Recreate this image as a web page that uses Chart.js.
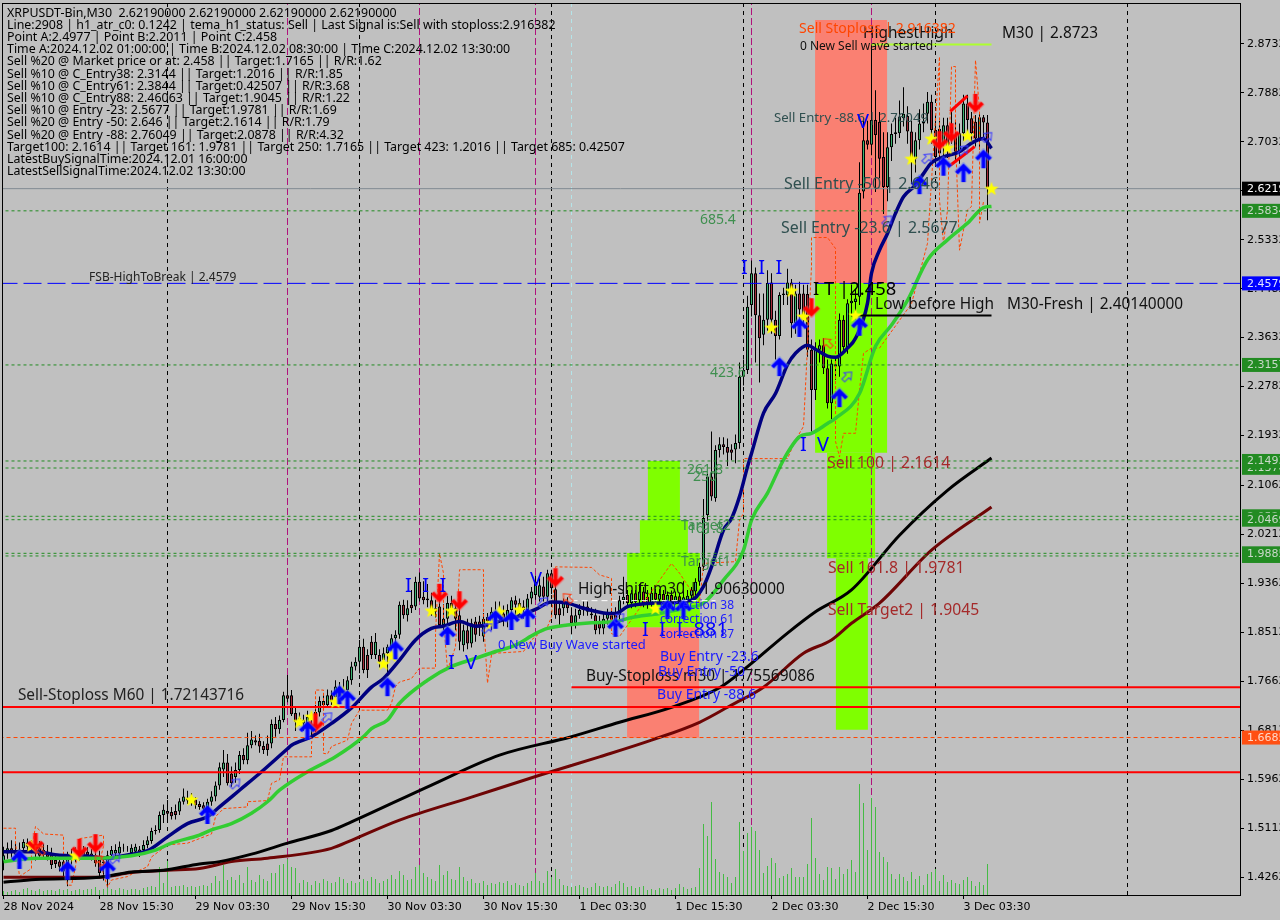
<!DOCTYPE html>
<html>
<head>
<meta charset="utf-8">
<title>XRPUSDT-Bin,M30</title>
<script src="https://cdn.jsdelivr.net/npm/chart.js@4"></script>
<style>
  html, body { margin: 0; padding: 0; background: #c0c0c0; overflow: hidden; }
  canvas { display: block; }
</style>
</head>
<body>
<canvas id="grafico" width="1280" height="920"></canvas>
<script>
// candles, one per M30 bar
const opens = [
  1.453,1.467,1.476,1.473,1.474,1.476,1.486,1.481,1.476,1.476,
  1.473,1.470,1.467,1.456,1.453,1.453,1.447,1.456,1.461,1.464,
  1.472,1.470,1.467,1.464,1.456,1.453,1.447,1.464,1.467,1.467,
  1.476,1.476,1.468,1.470,1.474,1.473,1.482,1.489,1.506,1.508,
  1.534,1.541,1.539,1.541,1.540,1.557,1.564,1.562,1.561,1.553,
  1.551,1.545,1.557,1.566,1.585,1.613,1.625,1.606,1.600,1.612,
  1.638,1.629,1.655,1.664,1.663,1.654,1.658,1.658,1.692,1.683,
  1.699,1.742,1.742,1.711,1.700,1.693,1.693,1.699,1.713,1.712,
  1.725,1.725,1.742,1.739,1.745,1.751,1.751,1.768,1.792,1.800,
  1.826,1.812,1.835,1.812,1.812,1.803,1.815,1.826,1.841,1.847,
  1.899,1.881,1.899,1.896,1.939,1.913,1.910,1.907,1.893,1.896,
  1.864,1.875,1.902,1.893,1.881,1.829,1.855,1.832,1.870,1.870,
  1.844,1.878,1.864,1.887,1.875,1.884,1.873,1.890,1.907,1.902,
  1.896,1.890,1.910,1.916,1.913,1.931,1.913,1.954,1.926,1.893,
  1.893,1.902,1.881,1.867,1.881,1.890,1.896,1.881,1.881,1.867,
  1.858,1.875,1.881,1.884,1.881,1.907,1.916,1.902,1.919,1.907,
  1.922,1.913,1.902,1.920,1.908,1.918,1.906,1.916,1.905,1.914,
  1.904,1.905,1.915,1.922,1.939,1.965,2.055,2.122,2.084,2.168,
  2.178,2.173,2.169,2.169,2.180,2.295,2.307,2.420,2.475,2.402,
  2.368,2.394,2.459,2.394,2.366,2.437,2.437,2.459,2.388,2.440,
  2.440,2.439,2.342,2.272,2.342,2.350,2.310,2.249,2.317,2.313,
  2.394,2.347,2.423,2.425,2.434,2.617,2.706,2.698,2.741,2.738,
  2.677,2.625,2.694,2.717,2.718,2.744,2.748,2.721,2.674,2.706,
  2.735,2.752,2.773,2.724,2.726,2.700,2.732,2.729,2.715,2.686,
  2.718,2.770,2.744,2.738,2.709,2.746,2.737
];
const closes = [
  1.464,1.476,1.468,1.465,1.467,1.487,1.479,1.476,1.467,1.463,
  1.465,1.461,1.447,1.449,1.444,1.436,1.459,1.464,1.467,1.472,
  1.464,1.464,1.462,1.450,1.433,1.450,1.464,1.473,1.473,1.479,
  1.477,1.476,1.477,1.479,1.467,1.482,1.490,1.506,1.508,1.534,
  1.543,1.536,1.532,1.534,1.558,1.566,1.559,1.557,1.551,1.548,
  1.545,1.557,1.566,1.585,1.617,1.625,1.589,1.589,1.612,1.638,
  1.629,1.655,1.665,1.660,1.653,1.647,1.647,1.692,1.683,1.699,
  1.742,1.736,1.709,1.696,1.702,1.699,1.704,1.708,1.684,1.732,
  1.732,1.742,1.731,1.757,1.757,1.742,1.768,1.792,1.800,1.826,
  1.786,1.786,1.812,1.835,1.800,1.815,1.826,1.841,1.847,1.899,
  1.881,1.893,1.893,1.939,1.910,1.907,1.907,1.887,1.887,1.864,
  1.875,1.902,1.893,1.875,1.835,1.855,1.832,1.867,1.847,1.861,
  1.875,1.870,1.887,1.873,1.884,1.875,1.890,1.907,1.899,1.890,
  1.890,1.910,1.922,1.939,1.933,1.913,1.954,1.928,1.881,1.881,
  1.902,1.893,1.867,1.881,1.890,1.896,1.887,1.884,1.855,1.858,
  1.875,1.884,1.873,1.855,1.907,1.913,1.902,1.919,1.904,1.922,
  1.902,1.902,1.920,1.908,1.918,1.906,1.916,1.905,1.914,1.904,
  1.912,1.915,1.925,1.939,1.965,2.050,2.122,2.087,2.168,2.178,
  2.173,2.163,2.163,2.180,2.295,2.307,2.417,2.475,2.402,2.362,
  2.394,2.458,2.394,2.366,2.437,2.440,2.459,2.388,2.440,2.412,
  2.397,2.342,2.272,2.342,2.350,2.310,2.249,2.318,2.313,2.394,
  2.347,2.423,2.427,2.431,2.615,2.706,2.698,2.741,2.715,2.674,
  2.625,2.694,2.717,2.720,2.747,2.752,2.721,2.674,2.706,2.735,
  2.738,2.773,2.724,2.677,2.683,2.732,2.695,2.718,2.686,2.718,
  2.770,2.741,2.718,2.709,2.746,2.737,2.622
];
const highs = [
  1.479,1.486,1.490,1.485,1.486,1.492,1.493,1.490,1.498,1.489,
  1.484,1.482,1.477,1.465,1.460,1.466,1.470,1.475,1.478,1.483,
  1.480,1.478,1.475,1.480,1.472,1.460,1.472,1.480,1.483,1.488,
  1.484,1.480,1.483,1.484,1.480,1.490,1.497,1.512,1.516,1.540,
  1.552,1.560,1.548,1.552,1.563,1.580,1.576,1.572,1.565,1.558,
  1.556,1.562,1.575,1.592,1.625,1.647,1.640,1.618,1.625,1.645,
  1.650,1.677,1.680,1.672,1.675,1.662,1.672,1.700,1.704,1.707,
  1.748,1.777,1.751,1.722,1.712,1.708,1.715,1.713,1.725,1.740,
  1.745,1.752,1.750,1.768,1.765,1.770,1.775,1.800,1.808,1.838,
  1.840,1.822,1.845,1.850,1.822,1.825,1.830,1.848,1.855,1.905,
  1.908,1.907,1.925,1.948,1.955,1.940,1.935,1.920,1.908,1.930,
  1.900,1.915,1.915,1.905,1.900,1.865,1.875,1.875,1.878,1.880,
  1.885,1.885,1.895,1.905,1.905,1.898,1.900,1.912,1.915,1.910,
  1.907,1.918,1.930,1.950,1.945,1.948,1.960,1.960,1.950,1.905,
  1.910,1.912,1.895,1.892,1.900,1.905,1.905,1.895,1.892,1.880,
  1.885,1.892,1.890,1.895,1.915,1.948,1.925,1.925,1.925,1.935,
  1.930,1.925,1.930,1.927,1.926,1.925,1.922,1.924,1.922,1.920,
  1.940,1.925,1.930,1.945,1.972,2.083,2.132,2.200,2.176,2.190,
  2.190,2.188,2.178,2.195,2.320,2.325,2.436,2.497,2.485,2.440,
  2.440,2.480,2.475,2.410,2.442,2.450,2.483,2.465,2.455,2.460,
  2.455,2.455,2.360,2.355,2.360,2.362,2.325,2.325,2.330,2.405,
  2.402,2.430,2.455,2.448,2.668,2.745,2.740,2.873,2.793,2.755,
  2.720,2.720,2.735,2.745,2.775,2.798,2.765,2.740,2.720,2.760,
  2.770,2.790,2.785,2.740,2.740,2.745,2.745,2.755,2.740,2.735,
  2.785,2.785,2.755,2.750,2.755,2.750,2.750
];
const lows = [
  1.438,1.458,1.460,1.458,1.455,1.470,1.472,1.468,1.455,1.457,
  1.458,1.455,1.440,1.442,1.436,1.428,1.410,1.448,1.452,1.455,
  1.458,1.458,1.455,1.444,1.427,1.420,1.408,1.458,1.460,1.462,
  1.470,1.470,1.463,1.464,1.461,1.467,1.476,1.484,1.500,1.503,
  1.520,1.520,1.526,1.526,1.534,1.552,1.553,1.550,1.545,1.543,
  1.538,1.530,1.550,1.558,1.578,1.600,1.585,1.583,1.590,1.605,
  1.622,1.622,1.650,1.655,1.642,1.640,1.637,1.650,1.670,1.675,
  1.695,1.730,1.706,1.680,1.690,1.680,1.685,1.672,1.678,1.705,
  1.718,1.720,1.725,1.733,1.735,1.735,1.745,1.760,1.785,1.780,
  1.780,1.772,1.805,1.805,1.790,1.795,1.780,1.815,1.828,1.840,
  1.875,1.870,1.885,1.890,1.905,1.900,1.895,1.880,1.877,1.860,
  1.855,1.865,1.885,1.855,1.820,1.818,1.822,1.825,1.835,1.845,
  1.835,1.860,1.855,1.865,1.868,1.862,1.860,1.880,1.882,1.880,
  1.875,1.880,1.900,1.908,1.905,1.905,1.905,1.918,1.875,1.862,
  1.880,1.885,1.848,1.858,1.875,1.880,1.880,1.875,1.848,1.848,
  1.848,1.865,1.865,1.845,1.868,1.900,1.895,1.893,1.895,1.898,
  1.895,1.892,1.895,1.900,1.902,1.898,1.900,1.898,1.900,1.898,
  1.900,1.900,1.908,1.915,1.932,1.958,2.045,2.080,2.078,2.155,
  2.160,2.140,2.150,2.145,2.170,2.280,2.300,2.400,2.320,2.285,
  2.350,2.375,2.370,2.325,2.360,2.420,2.420,2.363,2.370,2.395,
  2.385,2.330,2.200,2.255,2.320,2.300,2.240,2.222,2.290,2.295,
  2.340,2.335,2.400,2.395,2.420,2.605,2.690,2.680,2.616,2.640,
  2.578,2.600,2.670,2.700,2.710,2.730,2.700,2.630,2.650,2.690,
  2.720,2.735,2.700,2.660,2.665,2.660,2.675,2.700,2.670,2.665,
  2.705,2.720,2.705,2.695,2.690,2.710,2.567
];
const volumes = [
  4,3,4,5,3,6,7,5,4,6, 4,5,5,4,6,5,6,4,5,6,
  5,6,6,8,5,6,7,6,5,7, 6,5,6,6,5,7,8,9,8,28,
  12,34,8,9,9,10,8,9,8,9, 10,9,12,19,14,30,15,18,15,20,
  12,28,15,13,20,16,14,22,22,30, 31,36,28,27,12,15,13,10,14,12,
  16,14,12,13,18,16,12,14,12,13, 16,14,18,16,12,14,16,20,16,24,
  20,15,16,28,30,22,18,16,14,30, 20,24,16,15,28,18,14,16,12,12,
  14,10,12,11,13,12,14,10,12,10, 9,12,14,22,14,12,24,18,26,16,
  10,9,8,9,10,8,7,8,12,9, 8,9,8,11,14,12,8,9,7,8,
  9,5,6,5,7,6,7,5,7,11, 8,6,7,8,27,71,59,93,36,23,
  21,18,12,18,73,44,62,68,64,45, 22,29,37,32,17,19,21,27,18,18,
  18,31,77,37,21,15,28,27,16,28, 21,26,35,23,111,92,45,97,88,43,
  38,33,21,16,21,18,14,23,16,19, 10,21,23,26,14,20,13,15,12,11,
  15,18,14,9,13,10,31
];

// moving averages, read every few bars
const tealBars = [0,8,14,20,26,32,36,41,46,51,54,59,64,71,72,77,82,87,92,95,99,103,107,110,114,118,121,125,129,133,137,141,145,150,153,156,159,163,172,175,177,180,182,184,186,187,190,193,196,198,201,203,206,208,211,213,216,217,219,221,223,225,228,230,232,235,239,242,245,247];
const tealValues = [1.470,1.470,1.464,1.463,1.459,1.466,1.472,1.496,1.519,1.531,1.548,1.577,1.606,1.649,1.655,1.670,1.693,1.720,1.756,1.771,1.803,1.838,1.858,1.862,1.870,1.862,1.864,1.873,1.880,1.891,1.904,1.902,1.893,1.885,1.884,1.896,1.900,1.902,1.907,1.931,1.965,2.029,2.049,2.087,2.139,2.162,2.232,2.266,2.316,2.336,2.350,2.343,2.331,2.329,2.345,2.362,2.423,2.475,2.515,2.544,2.579,2.608,2.628,2.648,2.667,2.677,2.686,2.701,2.709,2.692];
const greenBars = [0,8,16,24,32,38,42,49,52,57,62,66,69,76,83,90,92,96,99,106,112,118,123,128,133,136,141,147,153,157,164,170,175,180,185,187,191,195,199,202,206,208,214,218,222,226,231,236,241,245,247];
const greenValues = [1.453,1.459,1.459,1.459,1.463,1.473,1.485,1.499,1.508,1.519,1.537,1.557,1.577,1.609,1.635,1.670,1.684,1.699,1.728,1.768,1.792,1.806,1.818,1.829,1.849,1.858,1.864,1.868,1.870,1.877,1.884,1.893,1.902,1.942,1.994,2.046,2.093,2.151,2.191,2.197,2.214,2.223,2.266,2.348,2.385,2.428,2.498,2.533,2.562,2.589,2.591];
const blackBars = [0,8,24,32,40,49,54,62,71,82,87,107,124,142,154,167,179,185,196,203,212,224,236,247];
const blackValues = [1.417,1.422,1.426,1.435,1.438,1.449,1.453,1.466,1.485,1.507,1.522,1.586,1.638,1.670,1.695,1.721,1.755,1.786,1.850,1.887,1.925,2.020,2.098,2.154];
const maroonBars = [0,24,32,41,49,57,66,82,87,99,117,134,149,162,174,182,190,200,207,212,219,232,247];
const maroonValues = [1.426,1.426,1.434,1.438,1.441,1.453,1.459,1.476,1.490,1.525,1.565,1.603,1.635,1.664,1.695,1.725,1.756,1.815,1.838,1.867,1.902,1.994,2.069];

// thin dashed orange trail
const trailBars = [0,3,3,4,7,7,8,10,15,15,16,17,18,19,25,25,24,26,27,31,33,36,37,41,46,52,53,55,61,61,66,67,69,70,71,77,77,78,78,80,80,81,82,86,87,89,96,97,98,99,102,104,108,108,109,110,110,111,113,114,120,120,121,122,123,130,132,136,137,138,147,149,152,152,154,167,169,174,175,183,184,185,185,192,196,198,200,202,202,206,208,208,209,210,213,214,215,217,219,227,231,234,234,234,235,236,237,238,238,239,241,242,243,244,244,245];
const trailValues = [1.511,1.511,1.485,1.427,1.441,1.473,1.514,1.501,1.499,1.462,1.412,1.412,1.444,1.493,1.499,1.479,1.453,1.409,1.421,1.427,1.435,1.444,1.461,1.482,1.485,1.501,1.531,1.545,1.548,1.557,1.559,1.589,1.595,1.635,1.635,1.635,1.658,1.710,1.751,1.751,1.641,1.640,1.653,1.664,1.693,1.716,1.716,1.728,1.757,1.765,1.771,1.789,1.789,1.849,1.988,1.954,1.873,1.786,1.826,1.960,1.960,1.873,1.763,1.812,1.815,1.818,1.838,1.861,1.878,1.965,1.964,1.951,1.945,1.849,1.844,1.971,1.954,1.902,1.971,1.974,2.046,2.058,2.153,2.153,2.153,2.185,2.209,2.486,2.537,2.537,2.518,2.183,2.156,2.197,2.197,2.272,2.336,2.345,2.345,2.422,2.527,2.851,2.851,2.602,2.527,2.585,2.834,2.834,2.712,2.515,2.585,2.591,2.845,2.758,2.562,2.599];

// signal icons
const starBars = [7,18,47,74,77,83,85,95,97,107,112,122,124,129,163,197,192,200,213,227,232,236,241,247];
const starPrices = [1.480,1.463,1.560,1.695,1.704,1.730,1.746,1.796,1.810,1.888,1.888,1.867,1.886,1.890,1.892,2.444,2.380,2.399,2.401,2.673,2.708,2.692,2.713,2.621];
const buyBars = [4,16,26,51,76,84,86,96,98,111,123,127,131,153,166,170,194,199,209,214,229,235,240,245];
const buyPrices = [1.456,1.437,1.438,1.534,1.680,1.742,1.734,1.756,1.820,1.845,1.873,1.871,1.876,1.859,1.890,1.890,2.312,2.380,2.258,2.382,2.628,2.660,2.649,2.673];
const sellBars = [8,19,23,78,109,114,138,202,234,237,243];
const sellPrices = [1.487,1.477,1.485,1.695,1.920,1.907,1.947,2.416,2.706,2.720,2.771];
const hollowBuyBars = [58,28,135,121,81,211,221,231,240,246,154];
const hollowBuyPrices = [1.589,1.459,1.904,1.859,1.704,2.296,2.567,2.675,2.689,2.712,1.876];
const hollowSellBars = [9,24,141,206];
const hollowSellPrices = [1.473,1.456,1.911,2.354];

// axes
const timeBars = [0,24,48,72,96,120,144,168,192,216,240];
const timeLabels = ["28 Nov 2024","28 Nov 15:30","29 Nov 03:30","29 Nov 15:30","30 Nov 03:30","30 Nov 15:30","1 Dec 03:30","1 Dec 15:30","2 Dec 03:30","2 Dec 15:30","3 Dec 03:30"];
const priceTicks = [2.8732,2.7882,2.7032,2.6182,2.5332,2.4482,2.3632,2.2782,2.1932,2.1062,2.0212,1.9362,1.8512,1.7662,1.6812,1.5962,1.5112,1.4262];

// vertical marks
const separatorBars = [41,89,137,185,233,281];
const signalBars = [71,104,133,187,217];
const cyanBars = [142];

const headerLines = [
  "XRPUSDT-Bin,M30  2.62190000 2.62190000 2.62190000 2.62190000",
  "Line:2908 | h1_atr_c0: 0.1242 | tema_h1_status: Sell | Last Signal is:Sell with stoploss:2.916382",
  "Point A:2.4977 | Point B:2.2011 | Point C:2.458",
  "Time A:2024.12.02 01:00:00 | Time B:2024.12.02 08:30:00 | Time C:2024.12.02 13:30:00",
  "Sell %20 @ Market price or at: 2.458 || Target:1.7165 || R/R:1.62",
  "Sell %10 @ C_Entry38: 2.3144 || Target:1.2016 || R/R:1.85",
  "Sell %10 @ C_Entry61: 2.3844 || Target:0.42507 || R/R:3.68",
  "Sell %10 @ C_Entry88: 2.46063 || Target:1.9045 || R/R:1.22",
  "Sell %10 @ Entry -23: 2.5677 || Target:1.9781 || R/R:1.69",
  "Sell %20 @ Entry -50: 2.646 || Target:2.1614 || R/R:1.79",
  "Sell %20 @ Entry -88: 2.76049 || Target:2.0878 || R/R:4.32",
  "Target100: 2.1614 || Target 161: 1.9781 || Target 250: 1.7165 || Target 423: 1.2016 || Target 685: 0.42507",
  "LatestBuySignalTime:2024.12.01 16:00:00",
  "LatestSellSignalTime:2024.12.02 13:30:00"
];

const FONT = '"Noto Sans", sans-serif';
const GREEN_TEXT = "#3f8f4f";
const BLUE_TEXT = "#1a1aff";
const DARK_SLATE = "#2f4f4f";
const BROWN = "#a52a2a";

// [text, bar, price, color, font px]
const notes = [
  ["FSB-HighToBreak | 2.4579", 21.4, 2.468, "#222", 12],
  ["Sell-Stoploss M60 | 1.72143716", 3.6, 1.742, "#222", 15.4],
  ["High-shift m30 | 1.90630000", 143.6, 1.926, "#111", 15.4],
  ["Buy-Stoploss m30 | 1.75569086", 145.6, 1.775, "#111", 15.4],
  ["Low before High", 217.9, 2.420, "#111", 15.4],
  ["M30-Fresh | 2.40140000", 250.9, 2.420, "#111", 15.4],
  ["HighestHigh", 214.9, 2.892, "#111", 15.4],
  ["M30 | 2.8723", 249.6, 2.892, "#111", 15.4],
  ["Sell Stoploss | 2.916382", 198.9, 2.899, "#ff4500", 14],
  ["0 New Sell wave started", 199.1, 2.868, "#111", 12],
  ["Sell Entry -88.6 | 2.76049", 192.6, 2.745, DARK_SLATE, 13.2],
  ["Sell Entry -50 | 2.646", 195.1, 2.630, DARK_SLATE, 16],
  ["Sell Entry -23.6 | 2.5677", 194.4, 2.552, DARK_SLATE, 15.9],
  ["685.4", 174.1, 2.567, GREEN_TEXT, 14],
  ["423.6", 176.6, 2.302, GREEN_TEXT, 14],
  ["261.8", 170.9, 2.133, GREEN_TEXT, 14],
  ["250", 172.4, 2.121, GREEN_TEXT, 14],
  ["Target2", 169.4, 2.036, GREEN_TEXT, 14],
  ["161.8", 171.1, 2.031, GREEN_TEXT, 14],
  ["Target1", 169.4, 1.973, GREEN_TEXT, 14],
  ["Sell 100 | 2.1614", 205.9, 2.145, BROWN, 15.8],
  ["Sell 161.8 | 1.9781", 206.1, 1.963, BROWN, 15.8],
  ["Sell Target2 | 1.9045", 206.1, 1.890, BROWN, 15.7],
  ["I T |2.458", 202.4, 2.446, "#000", 18.4],
  ["I  I  I", 184.4, 2.484, "#0000ff", 20],
  ["I  V", 199.1, 2.176, "#0000ff", 20],
  ["I  I  I", 100.4, 1.932, "#0000ff", 20],
  ["I  V", 111.1, 1.798, "#0000ff", 20],
  ["V", 131.6, 1.942, "#0000ff", 20],
  ["V", 213.4, 2.737, "#0000ff", 20],
  ["I  I  I .881", 159.6, 1.855, "#0000ff", 20],
  ["0 New Buy Wave started", 123.6, 1.829, BLUE_TEXT, 13],
  ["correction 38", 164.1, 1.897, BLUE_TEXT, 12],
  ["correction 61", 164.1, 1.873, BLUE_TEXT, 12],
  ["correction 87", 164.1, 1.847, BLUE_TEXT, 12],
  ["Buy Entry -23.6", 164.1, 1.808, BLUE_TEXT, 14],
  ["Buy Entry -50", 163.6, 1.782, BLUE_TEXT, 14],
  ["Buy Entry -88.6", 163.4, 1.742, BLUE_TEXT, 14]
];

// [price, text, background, foreground]
const TAG_GREEN = "#228b22";
const tags = [
  [2.6219, "2.6219", "#000000", "#ffffff"],
  [2.5834, "2.5834", TAG_GREEN, "#c8d8c8"],
  [2.4574, "2.4579", "#0000ff", "#dfe4ff"],
  [2.3157, "2.3157", TAG_GREEN, "#c8d8c8"],
  [2.1370, "2.1370", TAG_GREEN, "#c8d8c8"],
  [2.1489, "2.1493", TAG_GREEN, "#c8d8c8"],
  [2.0528, "2.0528", TAG_GREEN, "#c8d8c8"],
  [2.0469, "2.0469", TAG_GREEN, "#c8d8c8"],
  [1.9839, "1.9839", TAG_GREEN, "#c8d8c8"],
  [1.9885, "1.9885", TAG_GREEN, "#c8d8c8"],
  [1.6685, "1.6685", "#ff4f12", "#ffd8c8"]
];

// [start bar, end bar, top price, bottom price, color]
const SALMON = "#fa8072";
const LIME = "#7fff00";
const zones = [
  [202.9, 220.9, 2.915, 2.458, SALMON],
  [202.9, 220.9, 2.458, 2.163, LIME],
  [205.9, 217.9, 2.163, 1.980, LIME],
  [208.1, 216.1, 1.980, 1.682, LIME],
  [161.1, 169.1, 2.149, 2.046, LIME],
  [159.1, 171.1, 2.046, 1.989, LIME],
  [155.9, 174.1, 1.989, 1.860, LIME],
  [155.9, 173.9, 1.860, 1.668, SALMON]
];

// [price, start bar, end bar, color, width, dash]
const LAST_BAR = 309.125;
const DOTS = [3, 3];
const levels = [
  [2.6219, -1, LAST_BAR, "#808a92", 1, []],
  [2.5834, -1, LAST_BAR, "#228b22", 1, DOTS],
  [2.3157, -1, LAST_BAR, "#228b22", 1, DOTS],
  [2.1489, -1, LAST_BAR, "#228b22", 1, DOTS],
  [2.1367, -1, LAST_BAR, "#228b22", 1, DOTS],
  [2.0528, -1, LAST_BAR, "#228b22", 1, DOTS],
  [2.0469, -1, LAST_BAR, "#228b22", 1, DOTS],
  [1.9885, -1, LAST_BAR, "#228b22", 1, DOTS],
  [1.9839, -1, LAST_BAR, "#228b22", 1, DOTS],
  [1.6685, -1, LAST_BAR, "#ff4500", 1, [4, 3]],
  [2.4574, -1, LAST_BAR, "#0000ff", 1, [18, 6]],
  [1.72143716, -1, LAST_BAR, "#ff0000", 2, []],
  [1.75569086, 142, LAST_BAR, "#ff0000", 2, []],
  [1.6082, -1, LAST_BAR, "#ff0000", 2, []],
  [2.4014, 212, 247, "#000000", 2, []],
  [1.9063, 142, 178, "#ffffff", 1, [6, 4]],
  [2.8723, 217, 247, "#adff2f", 2, []]
];
const redSlants = [
  [[236.7, 2.756], [241, 2.783]],
  [[236.8, 2.663], [242.8, 2.695]]
];

function pairs(xs, ys) {
  return xs.map((x, i) => ({ x, y: ys[i] }));
}

function makeIcon(w, h, paint) {
  const c = document.createElement("canvas");
  c.width = w;
  c.height = h;
  paint(c.getContext("2d"));
  return c;
}

function arrowIcon(color, halo, up) {
  return makeIcon(20, 22, g => {
    if (!up) { g.translate(0, 22); g.scale(1, -1); }
    const path = () => {
      g.beginPath();
      g.moveTo(10, 20); g.lineTo(10, 4);
      g.moveTo(3, 11); g.lineTo(10, 4); g.lineTo(17, 11);
    };
    g.lineJoin = "miter";
    g.strokeStyle = halo; g.lineWidth = 6; path(); g.stroke();
    g.strokeStyle = color; g.lineWidth = 3.6; path(); g.stroke();
  });
}

function hollowIcon(color, angle) {
  return makeIcon(16, 16, g => {
    g.translate(8, 8);
    g.rotate(angle);
    g.strokeStyle = color;
    g.lineWidth = 1;
    g.beginPath();
    g.moveTo(0, -6); g.lineTo(5, 0); g.lineTo(2, 0); g.lineTo(2, 6);
    g.lineTo(-2, 6); g.lineTo(-2, 0); g.lineTo(-5, 0); g.closePath();
    g.stroke();
  });
}

const starIcon = makeIcon(16, 16, g => {
  g.fillStyle = "#ffff00";
  g.beginPath();
  for (let k = 0; k < 10; k++) {
    const r = k % 2 ? 3 : 7.5;
    const a = -Math.PI / 2 + k * Math.PI / 5;
    g.lineTo(8 + r * Math.cos(a), 8 + r * Math.sin(a));
  }
  g.closePath();
  g.fill();
});

function iconSet(xs, ys, icon) {
  return { type: "line", data: pairs(xs, ys), showLine: false, pointStyle: icon, pointRadius: 8, order: 1 };
}

function maLine(xs, ys, color, width) {
  return { type: "line", data: pairs(xs, ys), borderColor: color, borderWidth: width, pointRadius: 0, cubicInterpolationMode: "monotone", order: 3 };
}

const PX_PER_BAR = 4;
const PRICE_MAX = 2.9444;
const PRICE_MIN = 1.3950;

const datasets = [];

zones.forEach(z => datasets.push({
  type: "bar",
  data: [{ x: (z[0] + z[1]) / 2, y: [z[3], z[2]] }],
  backgroundColor: z[4],
  barThickness: (z[1] - z[0]) * PX_PER_BAR,
  grouped: false,
  inflateAmount: 0,
  order: 20
}));

function verticals(bars, color, dash) {
  bars.forEach(b => datasets.push({
    type: "line",
    data: [{ x: b, y: PRICE_MIN }, { x: b, y: PRICE_MAX }],
    borderColor: color,
    borderWidth: 1,
    borderDash: dash,
    pointRadius: 0,
    order: 15
  }));
}
verticals(separatorBars, "#000000", [4, 4]);
verticals(signalBars, "#b0127c", [7, 3]);
verticals(cyanBars, "#b4e4e8", [4, 4]);

datasets.push({
  type: "bar",
  yAxisID: "vol",
  data: volumes.map((v, i) => ({ x: i, y: v })),
  backgroundColor: "#45bb45",
  barThickness: 1,
  grouped: false,
  inflateAmount: 0,
  order: 12
});

datasets.push({
  type: "bar",
  data: opens.map((o, i) => ({ x: i, y: [lows[i], highs[i]] })),
  backgroundColor: "#000000",
  barThickness: 1,
  grouped: false,
  inflateAmount: 0,
  order: 6
});
datasets.push({
  type: "bar",
  data: opens.map((o, i) => ({ x: i, y: [Math.min(o, closes[i]), Math.max(o, closes[i])] })),
  backgroundColor: opens.map((o, i) => closes[i] >= o ? "#3cb371" : "#a52a3a"),
  borderColor: "#000000",
  borderWidth: 1,
  borderSkipped: false,
  barThickness: 3,
  grouped: false,
  inflateAmount: 0,
  order: 5
});

datasets.push({
  type: "line",
  data: pairs(trailBars, trailValues),
  borderColor: "#ff4500",
  borderWidth: 1,
  borderDash: [3, 2],
  pointRadius: 0,
  order: 4
});

datasets.push(maLine(blackBars, blackValues, "#000000", 3));
datasets.push(maLine(maroonBars, maroonValues, "#6e0505", 3));
datasets.push(maLine(greenBars, greenValues, "#32cd32", 3.5));
datasets.push(maLine(tealBars, tealValues, "#000080", 3.5));

levels.forEach(l => datasets.push({
  type: "line",
  data: [{ x: l[1], y: l[0] }, { x: l[2], y: l[0] }],
  borderColor: l[3],
  borderWidth: l[4],
  borderDash: l[5],
  pointRadius: 0,
  order: 2
}));

redSlants.forEach(s => datasets.push({
  type: "line",
  data: s.map(p => ({ x: p[0], y: p[1] })),
  borderColor: "#ff0000",
  borderWidth: 3,
  pointRadius: 0,
  order: 2
}));

datasets.push(iconSet(hollowBuyBars, hollowBuyPrices, hollowIcon("#3a3aff", Math.PI / 4)));
datasets.push(iconSet(hollowSellBars, hollowSellPrices, hollowIcon("#ff3a10", -Math.PI / 4)));
datasets.push(iconSet(buyBars, buyPrices, arrowIcon("#0000ff", "rgba(90,120,255,0.55)", true)));
datasets.push(iconSet(sellBars, sellPrices, arrowIcon("#ff0000", "rgba(255,90,90,0.55)", false)));
datasets.push(iconSet(starBars, starPrices, starIcon));

const overlay = {
  id: "overlay",
  afterDraw(chart) {
    const g = chart.ctx;
    const { x, y } = chart.scales;
    const area = chart.chartArea;
    g.save();
    g.textBaseline = "middle";
    g.textAlign = "left";

    notes.forEach(n => {
      g.font = n[4] + "px " + FONT;
      g.fillStyle = n[3];
      g.fillText(n[0], x.getPixelForValue(n[1]), y.getPixelForValue(n[2]));
    });

    g.font = "12.4px " + FONT;
    g.fillStyle = "#000000";
    headerLines.forEach((line, i) => g.fillText(line, area.left + 5, area.top + 10 + i * 12.2));

    g.strokeStyle = "#000000";
    g.lineWidth = 1;
    g.strokeRect(area.left + 0.5, area.top + 0.5, area.right - area.left, area.bottom - area.top);

    g.font = '11px "DejaVu Sans"';
    tags.forEach(t => {
      const py = y.getPixelForValue(t[0]);
      g.fillStyle = t[2];
      g.fillRect(area.right + 2, py - 7, 40, 14);
      g.fillStyle = t[3];
      g.fillText(t[1], area.right + 7, py + 0.5);
    });
    g.restore();
  }
};

new Chart(document.getElementById("grafico"), {
  type: "bar",
  data: { datasets },
  plugins: [overlay],
  options: {
    responsive: false,
    animation: false,
    layout: { autoPadding: false, padding: { left: 2, top: 3, right: 0, bottom: 0 } },
    plugins: { legend: { display: false }, tooltip: { enabled: false } },
    scales: {
      x: {
        type: "linear",
        min: -0.375,
        max: LAST_BAR,
        offset: false,
        grid: { drawOnChartArea: false, offset: false, tickLength: 4, color: "#000" },
        border: { color: "#000" },
        afterBuildTicks(s) { s.ticks = timeBars.map(value => ({ value })); },
        afterFit(s) {
          s.height = 25;
          s.paddingLeft = s.paddingRight = s.paddingTop = s.paddingBottom = 0;
        },
        ticks: {
          autoSkip: false,
          maxRotation: 0,
          align: "start",
          padding: 2,
          color: "#000",
          font: { family: "DejaVu Sans", size: 11 },
          callback: (v, i) => timeLabels[i]
        }
      },
      y: {
        type: "linear",
        position: "right",
        min: PRICE_MIN,
        max: PRICE_MAX,
        grid: { drawOnChartArea: false, tickLength: 4, color: "#000" },
        border: { color: "#000" },
        afterBuildTicks(s) { s.ticks = priceTicks.map(value => ({ value })); },
        afterFit(s) {
          s.width = 40;
          s.paddingLeft = s.paddingRight = s.paddingTop = s.paddingBottom = 0;
        },
        ticks: {
          autoSkip: false,
          padding: 3,
          color: "#000",
          font: { family: "DejaVu Sans", size: 11 },
          callback: v => v.toFixed(4)
        }
      },
      vol: { type: "linear", display: false, min: 0, max: 892 }
    }
  }
});
</script>
</body>
</html>
